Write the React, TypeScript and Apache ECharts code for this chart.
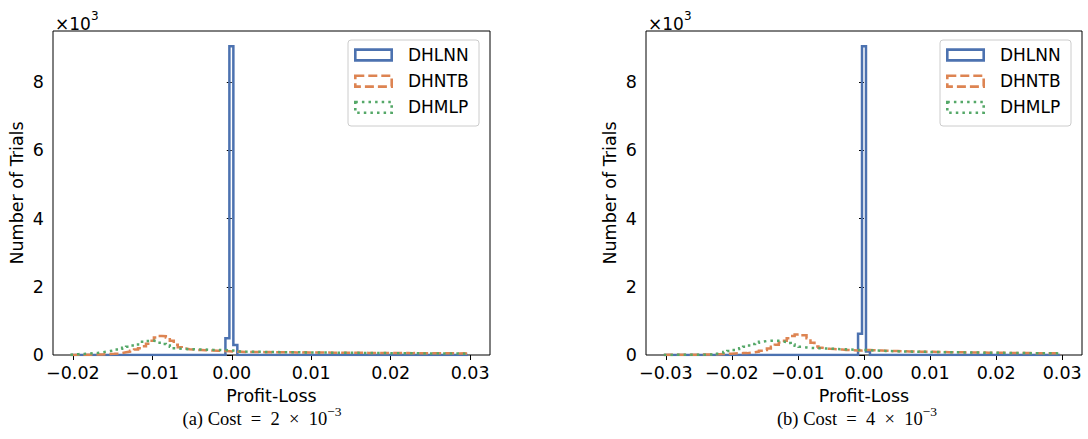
import React, { useEffect, useRef } from "react";
import * as echarts from "echarts";

// ---------- data ----------
const SERIES_NAMES = ["DHLNN", "DHNTB", "DHMLP"];
const COLORS = ["#4C72B0", "#DD8452", "#55A868"];

const X_TICKS_A = [-0.02, -0.01, 0, 0.01, 0.02, 0.03];
const X_TICKS_B = [-0.03, -0.02, -0.01, 0, 0.01, 0.02, 0.03];
const Y_TICKS = [0, 2000, 4000, 6000, 8000];

// panel (a): 100 bins, width 0.0005, starting at -0.0203
const BINS_A_START = -0.0203;
const BINS_A_WIDTH = 0.0005;
const DHLNN_A = [
  0, 0, 0, 0, 0, 0, 0, 0, 0, 0,
  0, 0, 0, 0, 0, 0, 0, 0, 0, 0,
  0, 0, 0, 0, 0, 0, 0, 0, 0, 0,
  0, 0, 0, 0, 0, 0, 0, 0, 0, 490,
  9050, 290, 0, 0, 0, 0, 0, 0, 0, 0,
  0, 0, 0, 0, 0, 0, 0, 0, 0, 0,
  0, 0, 0, 0, 0, 0, 0, 0, 0, 0,
  0, 0, 0, 0, 0, 0, 0, 0, 0, 0,
  0, 0, 0, 0, 0, 0, 0, 0, 0, 0,
  0, 0, 0, 0, 0, 0, 0, 0, 0, 0,
];
const DHNTB_A = [
  3, 5, 6, 8, 10, 12, 15, 18, 22, 28,
  35, 45, 60, 80, 100, 125, 160, 200, 260, 330,
  420, 510, 560, 550, 510, 420, 300, 230, 190, 170,
  160, 150, 145, 140, 135, 130, 125, 120, 115, 110,
  100, 95, 92, 90, 88, 90, 86, 85, 84, 86,
  82, 80, 82, 79, 78, 80, 76, 75, 77, 74,
  73, 75, 72, 70, 71, 69, 68, 70, 66, 65,
  67, 64, 63, 65, 62, 61, 60, 62, 59, 58,
  60, 57, 56, 58, 55, 54, 56, 53, 52, 54,
  51, 50, 52, 49, 48, 50, 47, 46, 48, 45,
];
const DHMLP_A = [
  20, 25, 30, 35, 45, 55, 65, 80, 95, 115,
  135, 160, 185, 210, 240, 275, 310, 350, 385, 410,
  420, 400, 360, 320, 280, 240, 200, 180, 175, 170,
  170, 165, 160, 160, 155, 150, 150, 145, 145, 140,
  130, 110, 105, 100, 98, 95, 93, 92, 90, 88,
  86, 85, 84, 82, 81, 80, 78, 77, 76, 75,
  74, 73, 72, 71, 70, 69, 68, 67, 66, 65,
  64, 63, 62, 61, 60, 59, 58, 57, 56, 55,
  54, 53, 52, 51, 50, 50, 49, 48, 47, 46,
  46, 45, 44, 44, 43, 42, 42, 41, 40, 40,
];

// panel (b): 100 bins, width 0.0006, starting at -0.0303
const BINS_B_START = -0.0303;
const BINS_B_WIDTH = 0.0006;
const DHLNN_B = [
  0, 0, 0, 0, 0, 0, 0, 0, 0, 0,
  0, 0, 0, 0, 0, 0, 0, 0, 0, 0,
  0, 0, 0, 0, 0, 0, 0, 0, 0, 0,
  0, 0, 0, 0, 0, 0, 0, 0, 0, 0,
  0, 0, 0, 0, 0, 0, 0, 0, 0, 620,
  9050, 100, 0, 0, 0, 0, 0, 0, 0, 0,
  0, 0, 0, 0, 0, 0, 0, 0, 0, 0,
  0, 0, 0, 0, 0, 0, 0, 0, 0, 0,
  0, 0, 0, 0, 0, 0, 0, 0, 0, 0,
  0, 0, 0, 0, 0, 0, 0, 0, 0, 0,
];
const DHNTB_B = [
  5, 5, 6, 6, 7, 8, 8, 10, 10, 12,
  14, 16, 20, 25, 30, 35, 40, 45, 50, 55,
  55, 65, 80, 100, 125, 150, 190, 240, 300, 370,
  420, 490, 560, 600, 615, 580, 490, 360, 250, 210,
  190, 180, 175, 170, 160, 150, 145, 140, 135, 130,
  150, 145, 140, 135, 130, 126, 122, 118, 114, 110,
  108, 105, 103, 100, 98, 96, 94, 92, 90, 88,
  86, 84, 82, 80, 79, 77, 76, 74, 73, 71,
  70, 68, 67, 66, 64, 63, 62, 60, 59, 58,
  57, 56, 55, 54, 53, 52, 51, 50, 49, 48,
];
const DHMLP_B = [
  3, 3, 4, 4, 5, 5, 6, 6, 7, 8,
  10, 12, 16, 40, 60, 90, 120, 150, 175, 200,
  240, 280, 320, 360, 390, 410, 420, 420, 415, 400,
  380, 350, 310, 270, 240, 220, 210, 205, 200, 195,
  190, 185, 180, 175, 170, 165, 160, 155, 150, 150,
  145, 140, 135, 130, 125, 120, 116, 112, 108, 104,
  102, 100, 98, 96, 94, 92, 90, 88, 86, 85,
  83, 81, 80, 78, 77, 75, 74, 72, 71, 70,
  68, 67, 66, 64, 63, 62, 61, 60, 58, 57,
  56, 55, 54, 53, 52, 51, 50, 49, 48, 47,
];

const CAPTION_A = ["(a) Cost\u2002=\u20022\u2002×\u200210", "−3"];
const CAPTION_B = ["(b) Cost\u2002=\u20024\u2002×\u200210", "−3"];

// ---------- helpers ----------
function stepPoints(start: number, width: number, counts: number[]) {
  const pts: number[][] = [[start, 0]];
  counts.forEach((c, k) => {
    pts.push([start + k * width, c]);
    pts.push([start + (k + 1) * width, c]);
  });
  pts.push([start + counts.length * width, 0]);
  return pts;
}

const FONT = "DejaVu Sans";
const TICK_SIZE = 17.5;
const NAME_SIZE = 17.5;
const fmtX = (v: number) => {
  const s = Math.abs(v).toFixed(2);
  return (v < -1e-9 ? "−" : "") + s;
};

const DASHES: (string | number[])[] = ["solid", [9, 4], [2.5, 4.1]];

function panelSeries(idx: number, start: number, width: number, arrays: number[][]) {
  return arrays.map((arr, i) => ({
    type: "line",
    name: SERIES_NAMES[i],
    xAxisIndex: idx,
    yAxisIndex: idx,
    data: stepPoints(start, width, arr),
    symbol: "none",
    silent: true,
    lineStyle: { color: COLORS[i], width: 2.5, type: DASHES[i], cap: "butt", join: "miter" },
    z: 2 + i,
  }));
}

function legendGraphic(dx: number) {
  const els: any[] = [
    {
      type: "rect",
      shape: { x: 348 + dx, y: 40, width: 131, height: 86, r: 3 },
      style: { fill: "rgba(255,255,255,0.8)", stroke: "#cccccc", lineWidth: 1 },
      z: 10,
    },
  ];
  SERIES_NAMES.forEach((n, i) => {
    const cy = 55 + i * 26.2;
    els.push({
      type: "rect",
      shape: { x: 355.3 + dx, y: cy - 5.4, width: 36.4, height: 10.8 },
      style: {
        fill: "none",
        stroke: COLORS[i],
        lineWidth: 2.6,
        lineDash: i === 0 ? null : (DASHES[i] as number[]),
      },
      z: 11,
    });
    els.push({
      type: "text",
      x: 408 + dx,
      y: cy,
      style: { text: n, fill: "#000", font: `17px "${FONT}"`, align: "left", verticalAlign: "middle" },
      z: 11,
    });
  });
  return els;
}

function caption(cx: number, parts: string[]) {
  return {
    type: "text",
    x: cx,
    y: 416,
    style: {
      text: `{m|${parts[0]}}{s|${parts[1]}}`,
      align: "center",
      verticalAlign: "middle",
      fill: "#000",
      rich: {
        m: { fontFamily: "Liberation Serif", fontSize: 18.5, lineHeight: 24, verticalAlign: "bottom" },
        s: { fontFamily: "Liberation Serif", fontSize: 13.5, lineHeight: 24, verticalAlign: "top" },
      },
    },
  };
}

function offsetText(x: number) {
  return {
    type: "text",
    x,
    y: 21,
    style: {
      text: "{m|×10}{s|3}",
      align: "left",
      verticalAlign: "middle",
      fill: "#000",
      rich: {
        m: { fontFamily: FONT, fontSize: 17, lineHeight: 22, verticalAlign: "bottom" },
        s: { fontFamily: FONT, fontSize: 12, lineHeight: 22, verticalAlign: "top" },
      },
    },
  };
}

function xAxis(idx: number, min: number, max: number, ticks: number[]) {
  return {
    type: "value",
    gridIndex: idx,
    min,
    max,
    name: "Profit-Loss",
    nameLocation: "middle",
    nameGap: 27,
    nameTextStyle: { fontFamily: FONT, fontSize: NAME_SIZE, color: "#000" },
    axisLine: { show: false },
    splitLine: { show: false },
    axisTick: { show: true, length: 5, inside: false, customValues: ticks, lineStyle: { color: "#000", width: 1 } },
    axisLabel: {
      customValues: ticks,
      formatter: fmtX,
      margin: 9,
      fontFamily: FONT,
      fontSize: TICK_SIZE,
      color: "#000",
    },
  };
}

function yAxis(idx: number) {
  return {
    type: "value",
    gridIndex: idx,
    min: 0,
    max: 9500,
    name: "Number of Trials",
    nameLocation: "middle",
    nameGap: 27,
    nameRotate: 90,
    nameTextStyle: { fontFamily: FONT, fontSize: NAME_SIZE, color: "#000" },
    axisLine: { show: false },
    splitLine: { show: false },
    axisTick: { show: true, length: 5, inside: false, customValues: Y_TICKS, lineStyle: { color: "#000", width: 1 } },
    axisLabel: {
      customValues: Y_TICKS,
      formatter: (v: number) => String(Math.round(v / 1000)),
      margin: 9,
      fontFamily: FONT,
      fontSize: TICK_SIZE,
      color: "#000",
    },
  };
}

export default function App() {
  const ref = useRef<HTMLDivElement>(null);
  useEffect(() => {
    if (!ref.current) return;
    const chart = echarts.init(ref.current, undefined, { renderer: "svg" });
    const gridCommon = { show: true, borderColor: "#000", borderWidth: 1, backgroundColor: "transparent", containLabel: false };
    chart.setOption({
      animation: false,
      backgroundColor: "#fff",
      grid: [
        { ...gridCommon, left: 53, top: 31, width: 437, height: 324 },
        { ...gridCommon, left: 646, top: 31, width: 436, height: 324 },
      ],
      xAxis: [xAxis(0, -0.0225, 0.0325, X_TICKS_A), xAxis(1, -0.033, 0.033, X_TICKS_B)],
      yAxis: [yAxis(0), yAxis(1)],
      series: [
        ...panelSeries(0, BINS_A_START, BINS_A_WIDTH, [DHLNN_A, DHNTB_A, DHMLP_A]),
        ...panelSeries(1, BINS_B_START, BINS_B_WIDTH, [DHLNN_B, DHNTB_B, DHMLP_B]),
      ],
      graphic: [
        ...legendGraphic(0),
        ...legendGraphic(592),
        offsetText(55),
        offsetText(648),
        caption(262, CAPTION_A),
        caption(857, CAPTION_B),
      ],
    });
    return () => chart.dispose();
  }, []);
  return <div ref={ref} style={{ position: "fixed", left: 0, top: 0, width: 1088, height: 439 }} />;
}
